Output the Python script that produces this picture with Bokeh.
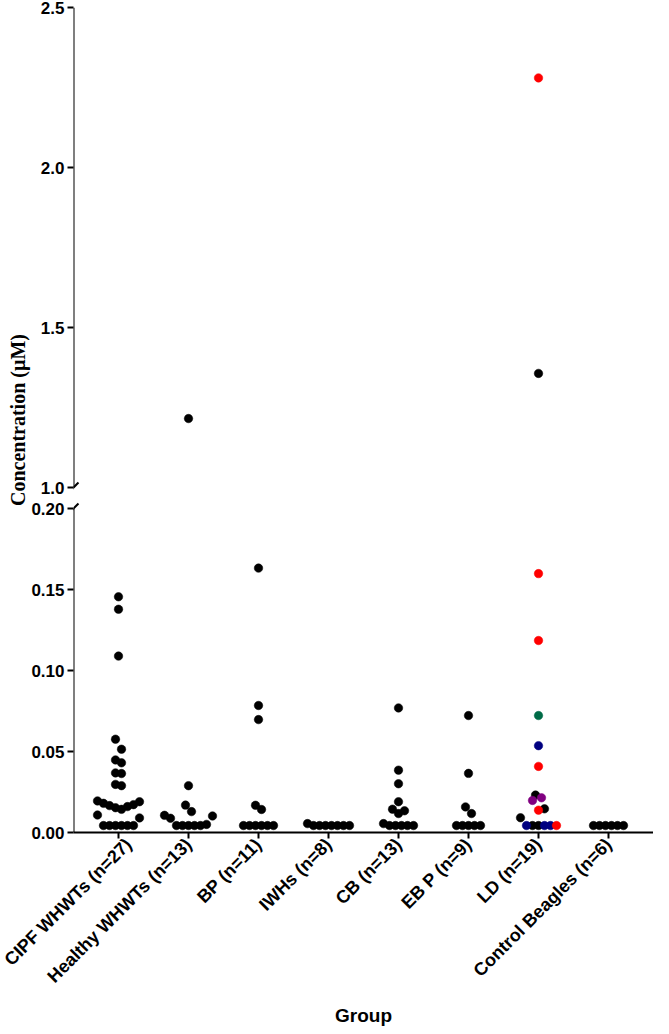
import math
from bokeh.plotting import figure
from bokeh.models import Range1d, FixedTicker, Arrow, ColumnDataSource, Title
from bokeh.embed import file_html
from bokeh.resources import INLINE

# ---------------- data ----------------
groups = ["CIPF WHWTs (n=27)", "Healthy WHWTs (n=13)", "BP (n=11)", "IWHs (n=8)",
          "CB (n=13)", "EB P (n=9)", "LD (n=19)", "Control Beagles (n=6)"]

cipf = [0.1455, 0.1378, 0.1089, 0.0576, 0.0514, 0.0448, 0.0430, 0.0368, 0.0364,
        0.0297, 0.0289, 0.0195, 0.0190, 0.0180, 0.0172, 0.0166, 0.0160, 0.0153,
        0.0143, 0.0108, 0.0090, 0.0043, 0.0043, 0.0043, 0.0043, 0.0043, 0.0043]
healthy = [1.2155, 0.0289, 0.0169, 0.0129, 0.0106, 0.0102, 0.0088, 0.0050,
           0.0043, 0.0043, 0.0043, 0.0043, 0.0043]
bp = [0.1632, 0.0784, 0.0697, 0.0168, 0.0142, 0.0043, 0.0043, 0.0043, 0.0043,
      0.0043, 0.0043]
iwhs = [0.0055, 0.0043, 0.0043, 0.0043, 0.0043, 0.0043, 0.0043, 0.0043]
cb = [0.0769, 0.0385, 0.0301, 0.0190, 0.0144, 0.0134, 0.0117, 0.0055, 0.0043,
      0.0043, 0.0043, 0.0043, 0.0043]
ebp = [0.0722, 0.0365, 0.0158, 0.0117, 0.0043, 0.0043, 0.0043, 0.0043, 0.0043]
ld = [2.280, 1.3565, 0.1598, 0.1185, 0.0722, 0.0536, 0.0408, 0.0231, 0.0214,
      0.0198, 0.0146, 0.0138, 0.0091, 0.0043, 0.0043, 0.0043, 0.0043, 0.0043, 0.0043]
ld_colors = ["#FF0000", "#000000", "#FF0000", "#FF0000", "#006B47", "#000080",
             "#FF0000", "#000000", "#800080", "#800080", "#000000", "#FF0000",
             "#000000", "#000000", "#000080", "#000000", "#000080", "#000080", "#FF0000"]
control = [0.0043, 0.0043, 0.0043, 0.0043, 0.0043, 0.0043]

series = [cipf, healthy, bp, iwhs, cb, ebp, ld, control]
series_colors = [None, None, None, None, None, None, ld_colors, None]

upper_ticks = [1.0, 1.5, 2.0, 2.5]
upper_tick_labels = ["1.0", "1.5", "2.0", "2.5"]
lower_ticks = [0.00, 0.05, 0.10, 0.15, 0.20]
lower_tick_labels = ["0.00", "0.05", "0.10", "0.15", "0.20"]

# ---------------- broken-axis geometry (pixels) ----------------
LOW_MAX = 0.20
LOW_PX = 324
GAP_PX = 21
UP_MIN, UP_MAX = 1.0, 2.5
UP_PX = 480
FRAME_H = LOW_PX + GAP_PX + UP_PX
CAT_PX = 70.0
FRAME_W = 580
LEFT = 73
X0 = -45.0 / CAT_PX
X1 = X0 + FRAME_W / CAT_PX
DOT = 8.5
STEP = 6.0
ROW_PX = 10.6


def ymap(v):
    if v <= LOW_MAX + 1e-9:
        return v / LOW_MAX * LOW_PX
    return LOW_PX + GAP_PX + (v - UP_MIN) / (UP_MAX - UP_MIN) * UP_PX


def swarm(vals):
    order = sorted(range(len(vals)), key=lambda i: vals[i])
    offs = [0.0] * len(vals)
    rows, cur, start = [], [], None
    for i in order:
        y = ymap(vals[i])
        if cur and y - start <= ROW_PX:
            cur.append(i)
        else:
            if cur:
                rows.append(cur)
            cur, start = [i], y
    if cur:
        rows.append(cur)
    for row in rows:
        n = len(row)
        slots = [(k - (n - 1) / 2) * STEP for k in range(n)]
        slots.sort(key=lambda o: (abs(o), -o))
        for i, o in zip(row, slots):
            offs[i] = o
    return offs


xs, ys, cs = [], [], []
for gi, vals in enumerate(series):
    offs = swarm(vals)
    cols = series_colors[gi] or ["#000000"] * len(vals)
    for v, o, c in zip(vals, offs, cols):
        xs.append(gi + o / CAT_PX)
        ys.append(ymap(v))
        cs.append(c)

src = ColumnDataSource(dict(x=xs, y=ys, c=cs))

p = figure(frame_width=FRAME_W, frame_height=FRAME_H,
           x_range=Range1d(X0, X1), y_range=Range1d(0, FRAME_H),
           output_backend="svg", toolbar_location=None,
           min_border_left=LEFT, min_border_right=0, min_border_top=7,
           min_border_bottom=150)
p.grid.visible = False
p.outline_line_color = None
p.background_fill_color = "white"
p.border_fill_color = "white"

p.scatter("x", "y", source=src, size=DOT, fill_color="c", line_color="c",
          line_width=0.5)

for ax in (p.xaxis[0], p.yaxis[0]):
    ax.axis_line_width = 2
    ax.major_tick_line_width = 2
    ax.major_tick_out = 6
    ax.major_tick_in = 0
    ax.minor_tick_line_color = None
    ax.major_label_text_font = "Liberation Sans"
    ax.major_label_text_font_style = "bold"
    ax.major_label_text_font_size = "17px"
    ax.major_label_text_color = "black"
    ax.major_label_standoff = 3

p.xaxis.ticker = FixedTicker(ticks=list(range(len(groups))))
p.xaxis.major_label_overrides = {i: g for i, g in enumerate(groups)}
p.xaxis.major_label_orientation = math.pi / 4
p.xaxis.major_label_text_font_size = "18px"
p.xaxis.axis_label = "Group"
p.xaxis.axis_label_text_font = "Liberation Sans"
p.xaxis.axis_label_text_font_style = "bold"
p.xaxis.axis_label_text_font_size = "19px"
p.xaxis.axis_label_text_color = "black"
p.xaxis.axis_label_standoff = 8

all_ticks = lower_ticks + upper_ticks
all_tick_labels = lower_tick_labels + upper_tick_labels
p.yaxis.ticker = FixedTicker(ticks=[ymap(v) for v in all_ticks])
p.yaxis.major_label_overrides = {ymap(v): t for v, t in zip(all_ticks, all_tick_labels)}
p.yaxis.axis_line_color = None

# broken y-axis line with slashes
xpx = 1.0 / CAT_PX
for (a, b) in [(0, ymap(LOW_MAX)), (ymap(UP_MIN), ymap(UP_MAX))]:
    p.add_layout(Arrow(end=None, x_start=X0, y_start=a, x_end=X0, y_end=b,
                       line_width=2, line_color="black"))
for yb in (ymap(LOW_MAX), ymap(UP_MIN)):
    p.add_layout(Arrow(end=None, x_start=X0 - 5 * xpx, y_start=yb - 5,
                       x_end=X0 + 5 * xpx, y_end=yb + 5,
                       line_width=2, line_color="black"))

# y-axis title, shifted upward like the reference
yt = Title(text="Concentration (µM)", align="center", offset=20,
           text_font="Liberation Serif", text_font_style="bold",
           text_font_size="20px", text_color="black")
try:
    yt.standoff = 0
except Exception:
    pass
p.add_layout(yt, "left")

open("out.html", "w").write(file_html(p, INLINE))
